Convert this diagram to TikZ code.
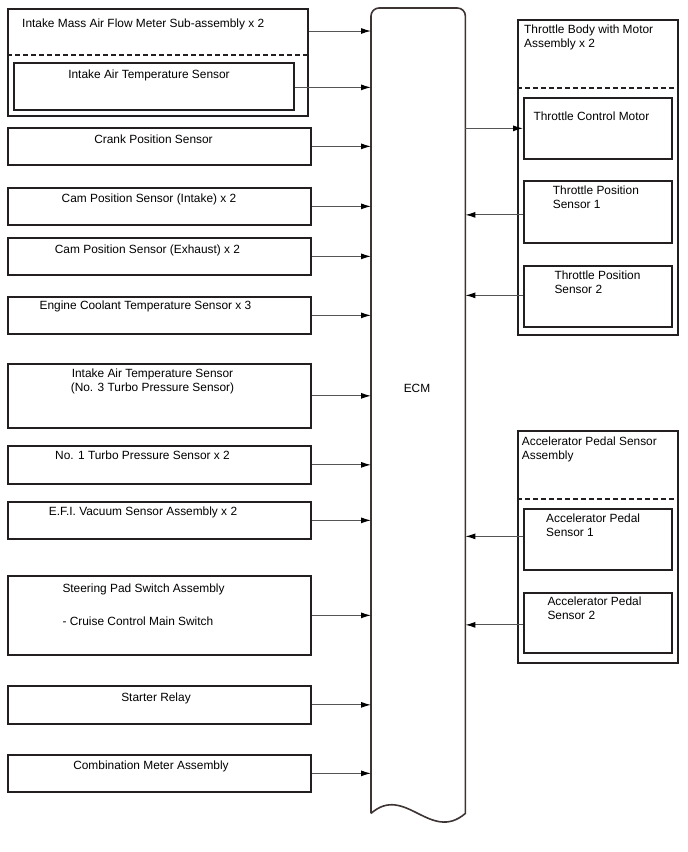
\documentclass[tikz,border=0pt]{standalone}
\usepackage{fontspec}
\setmainfont{Liberation Sans}
\usepackage{tikz}
\definecolor{boxline}{RGB}{35,31,32}
\definecolor{arrowline}{RGB}{85,85,85}
\definecolor{ecmline}{RGB}{62,52,52}
\usetikzlibrary{arrows.meta, positioning, calc}
\newcommand{\ecufont}{\fontsize{11.9}{14}\selectfont}
\tikzset{
    ecubox/.style={draw=boxline, line width=1.7pt, inner sep=0pt, anchor=north west},
    ecutext/.style={anchor=base, inner sep=0pt, font=\ecufont},
    eculeft/.style={anchor=base west, inner sep=0pt, font=\ecufont, align=left},
    ecuarrow/.style={-{Latex[length=10pt,width=6pt,color=black]}, line width=1pt, draw=arrowline},
    ecudash/.style={draw=boxline, line width=1.7pt, dash pattern=on 5pt off 3pt},
    ecmline/.style={draw=ecmline, line width=1.6pt}
}
\begin{document}
\begin{tikzpicture}[x=1pt, y=-1pt]
  \useasboundingbox (0,0) rectangle (688,852);
  % ECM
  \node[minimum width=94pt, minimum height=805pt, inner sep=0pt, anchor=north west] (ecm) at (371,8) {};
  \draw[ecmline] (ecm.south west) [rounded corners=8pt] -- (ecm.north west) -- (ecm.north east)
      [sharp corners] -- (ecm.south east) .. controls ($(ecm.south east)+(-35,30)$) and ($(ecm.south west)+(34,-30)$) .. (ecm.south west);
  \node[ecutext] (ecm-t) at (417,392) {ECM};

  % left side
  \node[ecubox, minimum width=300pt, minimum height=107pt] (maf) at (7,8) {};
  \draw[ecudash] ($(maf.north west)+(0,47)$) -- ($(maf.north east)+(0,47)$);
  \node[ecubox, minimum width=280pt, minimum height=47pt] (mafiat) at (13,62) {};
  \node[eculeft] (maf-t) at (22,27) {Intake Mass Air Flow Meter Sub-assembly x 2};
  \node[ecutext] (mafiat-t) at (149,78) {Intake Air Temperature Sensor};
  \draw[ecuarrow] ($(maf.north east)+(0,23)$) -- ($(maf.north east -| ecm.west)+(0,23)$);
  \draw[ecuarrow] ([yshift=-1pt]mafiat.east) -- ([yshift=-1pt]mafiat.east -| ecm.west);

  \foreach \nm/\yt/\hh in {crank/127/37, camin/187/37, camex/237/37, ect/296/37, iat/363/64,
                           turbo/445/38, efi/501/37, steer/575/79, starter/685/38, meter/754/37} {
      \node[ecubox, minimum width=303pt, minimum height=\hh pt] (\nm) at (7,\yt) {};
      \draw[ecuarrow] (\nm.east) -- (\nm.east -| ecm.west);
  }
  \node[ecutext] (crank-t) at (153.5,143.3) {Crank Position Sensor};
  \node[ecutext] (camin-t) at (149,202.7) {Cam Position Sensor (Intake) x 2};
  \node[ecutext] (camex-t) at (147.5,253.3) {Cam Position Sensor (Exhaust) x 2};
  \node[ecutext] (ect-t) at (145.5,309.3) {Engine Coolant Temperature Sensor x 3};
  % two-line labels sit on the baseline of their last line
  \node[ecutext, align=center] (iat-t) at (152.5,391.7) {Intake Air Temperature Sensor\\(No. 3 Turbo Pressure Sensor)};
  \node[ecutext] (turbo-t) at (142.5,459) {No. 1 Turbo Pressure Sensor x 2};
  \node[ecutext] (efi-t) at (143,515) {E.F.I. Vacuum Sensor Assembly x 2};
  \node[eculeft] (steer-t) at (62.3,592.7) {Steering Pad Switch Assembly};
  \node[eculeft] (steer-s) at (62.3,625) {- Cruise Control Main Switch};
  \node[ecutext] (starter-t) at (156,701) {Starter Relay};
  \node[ecutext] (meter-t) at (151,769.3) {Combination Meter Assembly};

  % right side
  \node[ecubox, minimum width=160pt, minimum height=315pt] (thr) at (517,19) {};
  \draw[ecudash] ($(thr.north west)+(0,69)$) -- ($(thr.north east)+(0,69)$);
  \node[eculeft] (thr-t) at (524,47.3) {Throttle Body with Motor\\Assembly x 2};
  \node[ecubox, minimum width=148pt, minimum height=61pt] (motor) at (523,97) {};
  \node[ecubox, minimum width=148pt, minimum height=62pt] (tps1) at (523,180) {};
  \node[ecubox, minimum width=148pt, minimum height=61pt] (tps2) at (523,265) {};
  \node[eculeft] (motor-t) at (533.3,120) {Throttle Control Motor};
  \node[eculeft] (tps1-t) at (552.7,208) {Throttle Position\\Sensor 1};
  \node[eculeft] (tps2-t) at (554.3,293.3) {Throttle Position\\Sensor 2};
  \draw[ecuarrow] (motor.west -| ecm.east) -- (motor.west);
  \draw[ecuarrow] ([yshift=-3pt]tps1.west) -- ([yshift=-3pt]tps1.west -| ecm.east);
  \draw[ecuarrow] ([yshift=1pt]tps2.west) -- ([yshift=1pt]tps2.west -| ecm.east);

  \node[ecubox, minimum width=160pt, minimum height=232pt] (app) at (517,430) {};
  \draw[ecudash] ($(app.north west)+(0,69)$) -- ($(app.north east)+(0,69)$);
  \node[eculeft] (app-t) at (521.7,459) {Accelerator Pedal Sensor\\Assembly};
  \node[ecubox, minimum width=148pt, minimum height=61pt] (aps1) at (523,508) {};
  \node[ecubox, minimum width=148pt, minimum height=60pt] (aps2) at (523,592) {};
  \node[eculeft] (aps1-t) at (546,536.3) {Accelerator Pedal\\Sensor 1};
  \node[eculeft] (aps2-t) at (547.3,619.7) {Accelerator Pedal\\Sensor 2};
  \draw[ecuarrow] ([yshift=3pt]aps1.west) -- ([yshift=3pt]aps1.west -| ecm.east);
  \draw[ecuarrow] ([yshift=-2pt]aps2.west) -- ([yshift=-2pt]aps2.west -| ecm.east);
\end{tikzpicture}
\end{document}
